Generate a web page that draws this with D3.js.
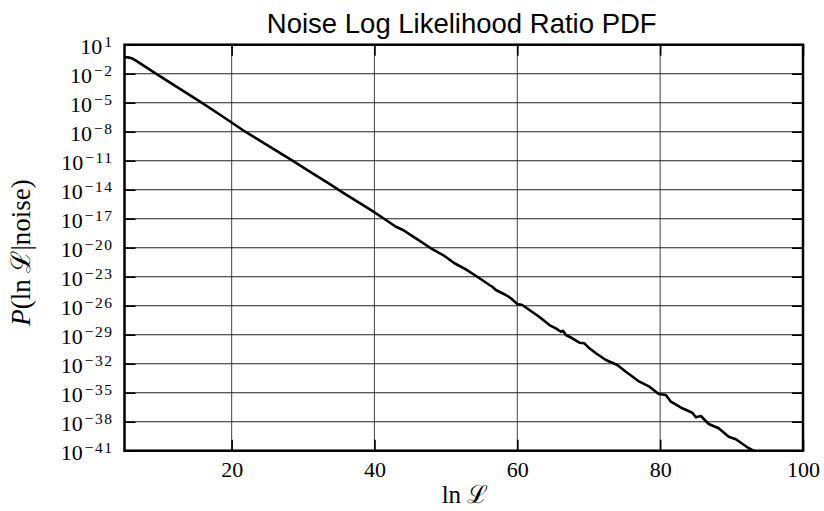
<!DOCTYPE html>
<html>
<head>
<meta charset="utf-8">
<script src="https://cdn.jsdelivr.net/npm/d3@7"></script>
<style>
  html, body { margin: 0; padding: 0; background: #fff; }
  svg { display: block; }
</style>
</head>
<body>
<svg id="chart" width="824" height="511"></svg>
<script>
// ---- data ----
const lnL = [5, 5.5, 6.0, 6.6, 9.4, 12.6, 15.8, 18.8, 21.8, 25.1, 28.4, 31.0, 33.7, 35.8, 38.4, 39.8, 41.4, 43.0, 44.0, 45.8, 47.9, 49.6, 51.2, 52.8, 54.5, 56.1, 56.5, 57.0, 58.4, 59.1, 60.0, 60.7, 61.7, 63.1, 64.5, 65.4, 66.1, 66.4, 66.8, 67.7, 68.7, 69.4, 70.1, 71.0, 72.4, 74.0, 75.2, 77.1, 78.5, 79.8, 80.8, 81.5, 83.1, 84.5, 85.0, 85.7, 86.8, 88.2, 89.6, 90.6, 92.4, 93.1, 94.0];
const log10P = [-0.30, -0.31, -0.40, -0.65, -2.0, -3.5, -5.0, -6.45, -7.95, -9.45, -10.95, -12.15, -13.4, -14.4, -15.6, -16.25, -17.03, -17.83, -18.17, -19.03, -20.06, -20.76, -21.61, -22.24, -23.06, -23.86, -24.04, -24.38, -24.89, -25.23, -25.82, -25.93, -26.45, -27.17, -28.00, -28.34, -28.69, -28.59, -29.03, -29.37, -29.83, -29.89, -30.41, -30.92, -31.62, -32.13, -32.83, -33.86, -34.38, -35.13, -35.24, -35.93, -36.61, -37.07, -37.54, -37.41, -38.24, -38.68, -39.55, -39.82, -40.75, -41.0, -41.4];
const xTicks = [20, 40, 60, 80, 100];
const yExponents = [1, -2, -5, -8, -11, -14, -17, -20, -23, -26, -29, -32, -35, -38, -41];
const xDomain = [5, 100];
const yDomain = [1e-41, 1e1];
const titleText = "Noise Log Likelihood Ratio PDF";

// ---- layout ----
const L = 124.5, R = 803, T = 44.7, B = 450.7;
const svg = d3.select("#chart");
const x = d3.scaleLinear().domain(xDomain).range([L, R]);
const y = d3.scaleLog().domain(yDomain).range([B, T]);
const serif = "'Liberation Serif', 'Times New Roman', serif";

// grid
const grid = svg.append("g");
grid.selectAll("line.v").data(xTicks).join("line")
  .attr("x1", d => x(d)).attr("x2", d => x(d)).attr("y1", T).attr("y2", B)
  .attr("stroke", "#555").attr("stroke-width", 1.1);
grid.selectAll("line.h").data(yExponents).join("line")
  .attr("x1", L).attr("x2", R).attr("y1", d => y(Math.pow(10, d))).attr("y2", d => y(Math.pow(10, d)))
  .attr("stroke", "#222").attr("stroke-width", 1.1);

// data line
svg.append("defs").append("clipPath").attr("id", "clip")
  .append("rect").attr("x", L).attr("y", T).attr("width", R - L).attr("height", B - T);
const pts = lnL.map((v, i) => [v, Math.pow(10, log10P[i])]);
svg.append("path").datum(pts)
  .attr("clip-path", "url(#clip)")
  .attr("fill", "none").attr("stroke", "#000").attr("stroke-width", 2.6)
  .attr("stroke-linejoin", "round")
  .attr("d", d3.line().x(d => x(d[0])).y(d => y(d[1])));

// axes (ticks inside)
const tickLen = 11;
const xAxis = svg.append("g").attr("transform", `translate(0,${B})`)
  .call(d3.axisBottom(x).tickValues(xTicks).tickSizeInner(-tickLen).tickSizeOuter(0).tickPadding(11).tickFormat(d3.format("d")));
xAxis.select(".domain").remove();
xAxis.selectAll(".tick line").attr("stroke", "#000").attr("stroke-width", 1.6);
xAxis.selectAll(".tick text").attr("font-family", serif).attr("font-size", 22).attr("fill", "#000");

const xAxisTop = svg.append("g").attr("transform", `translate(0,${T})`)
  .call(d3.axisTop(x).tickValues(xTicks).tickSizeInner(-tickLen).tickSizeOuter(0).tickFormat(""));
xAxisTop.select(".domain").remove();
xAxisTop.selectAll(".tick line").attr("stroke", "#000").attr("stroke-width", 1.6);

const yVals = yExponents.map(e => Math.pow(10, e));
const yAxis = svg.append("g").attr("transform", `translate(${L},0)`)
  .call(d3.axisLeft(y).tickValues(yVals).tickSizeInner(-tickLen).tickSizeOuter(0).tickFormat(""));
yAxis.select(".domain").remove();
yAxis.selectAll(".tick line").attr("stroke", "#000").attr("stroke-width", 1.6);
const yAxisR = svg.append("g").attr("transform", `translate(${R},0)`)
  .call(d3.axisRight(y).tickValues(yVals).tickSizeInner(-tickLen).tickSizeOuter(0).tickFormat(""));
yAxisR.select(".domain").remove();
yAxisR.selectAll(".tick line").attr("stroke", "#000").attr("stroke-width", 1.6);

// y tick labels with superscripts
const yl = svg.append("g");
yExponents.forEach(e => {
  const yy = y(Math.pow(10, e));
  const t = yl.append("text").attr("x", L - 11).attr("y", yy + 9.5)
    .attr("text-anchor", "end").attr("font-family", serif).attr("fill", "#000");
  t.append("tspan").attr("font-size", 22).text("10");
  t.append("tspan").attr("font-size", 15.5).attr("dy", -7.5).attr("dx", 2)
    .attr("letter-spacing", 1.5)
    .text(e < 0 ? "\u2212" + Math.abs(e) : String(e));
});

// frame
svg.append("rect").attr("x", L).attr("y", T).attr("width", R - L).attr("height", B - T)
  .attr("fill", "none").attr("stroke", "#000").attr("stroke-width", 2.5);

// title
svg.append("text").attr("x", (L + R) / 2 - 2).attr("y", 33).attr("text-anchor", "middle")
  .attr("font-family", "'Liberation Sans', Arial, sans-serif").attr("font-size", 27.5).attr("fill", "#000")
  .text(titleText);

// x label
const xl = svg.append("text").attr("x", 465).attr("y", 503).attr("text-anchor", "middle")
  .attr("font-family", serif).attr("font-size", 25).attr("fill", "#000");
xl.append("tspan").text("ln ");
xl.append("tspan").attr("font-family", "'DejaVu Serif', serif").text("\u2112");

// y label
const ylab = svg.append("text").attr("transform", `translate(30,252.5) rotate(-90)`)
  .attr("text-anchor", "middle").attr("font-family", serif).attr("font-size", 27).attr("fill", "#000");
ylab.append("tspan").attr("font-style", "italic").text("P");
ylab.append("tspan").text("(ln ");
ylab.append("tspan").attr("font-family", "'DejaVu Serif', serif").text("\u2112");
ylab.append("tspan").text("|noise)");
</script>
</body>
</html>
